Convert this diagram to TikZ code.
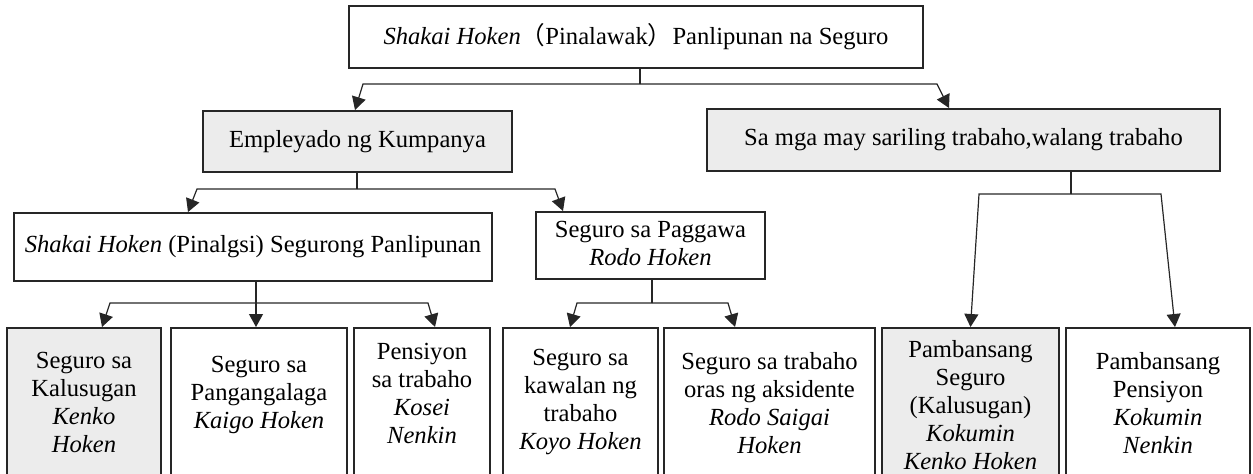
\documentclass[tikz,border=0pt]{standalone}
\usepackage{fontspec}
\setmainfont{Liberation Serif}
\newfontfamily\cjk{Noto Sans CJK JP}
\usetikzlibrary{arrows.meta}

\tikzset{
  box/.style={draw=black!85, line width=1pt, rectangle, inner sep=0pt, font=\fontsize{12.3}{14}\selectfont},
  shaded/.style={box, fill=gray!15},
  leaf/.style={anchor=north, text height=9.8pt, text depth=70pt},
  link/.style={draw=black!85, line width=0.6pt},
  arr/.style={link, -{Triangle[length=6.5pt,width=7pt]}},
}

\begin{document}
\begin{tikzpicture}[x=0.5pt, y=-0.5pt]
  \useasboundingbox (0,0) rectangle (1253,473);
  \clip (0,0) rectangle (1253,473);

  % upper levels
  \node[box, minimum width=287pt, minimum height=31pt] (top) at (636,37)
    {\textit{Shakai Hoken}{\cjk （}Pinalawak{\cjk ）}Panlipunan na Seguro};
  \node[shaded, minimum width=154.5pt, minimum height=30.5pt] (emp) at (357.5,141.5) {Empleyado ng Kumpanya};
  \node[shaded, minimum width=256.5pt, minimum height=31pt] (self) at (963.5,140) {Sa mga may sariling trabaho,walang trabaho};
  \node[box, minimum width=239pt, minimum height=34pt] (pin) at (253,247)
    {\textit{Shakai Hoken} (Pinalgsi) Segurong Panlipunan};
  \node[box, minimum width=114.5pt, minimum height=33.5pt] (rodo) at (650.5,245.5)
    {\begin{tabular}{@{}c@{}}Seguro sa Paggawa\\\textit{Rodo Hoken}\end{tabular}};

  % bottom row
  \node[shaded, leaf, minimum width=77pt, inner ysep=10.3pt] (b1) at (84,327)
    {\begin{tabular}[t]{@{}c@{}}Seguro sa\\Kalusugan\\\textit{Kenko}\\\textit{Hoken}\end{tabular}};
  \node[box, leaf, minimum width=88pt, inner ysep=12.3pt] (b2) at (259,327)
    {\begin{tabular}[t]{@{}c@{}}Seguro sa\\Pangangalaga\\\textit{Kaigo Hoken}\end{tabular}};
  \node[box, leaf, minimum width=68pt, inner ysep=5.8pt] (b3) at (422,327)
    {\begin{tabular}[t]{@{}c@{}}Pensiyon\\sa trabaho\\\textit{Kosei}\\\textit{Nenkin}\end{tabular}};
  \node[box, leaf, minimum width=77.5pt, inner ysep=8.8pt] (b4) at (580.5,327)
    {\begin{tabular}[t]{@{}c@{}}Seguro sa\\kawalan ng\\trabaho\\\textit{Koyo Hoken}\end{tabular}};
  \node[box, leaf, minimum width=105.5pt, inner ysep=10.8pt] (b5) at (769.5,327)
    {\begin{tabular}[t]{@{}c@{}}Seguro sa trabaho\\oras ng aksidente\\\textit{Rodo Saigai}\\\textit{Hoken}\end{tabular}};
  \node[shaded, leaf, minimum width=88.5pt, inner ysep=4.8pt] (b6) at (970.5,327)
    {\begin{tabular}[t]{@{}c@{}}Pambansang\\Seguro\\(Kalusugan)\\\textit{Kokumin}\\\textit{Kenko Hoken}\end{tabular}};
  \node[box, leaf, minimum width=92pt, inner ysep=10.8pt] (b7) at (1158,327)
    {\begin{tabular}[t]{@{}c@{}}Pambansang\\Pensiyon\\\textit{Kokumin}\\\textit{Nenkin}\end{tabular}};

  % junctions
  \coordinate (t0) at (640,84);
  \coordinate (t0l) at (363,84);
  \coordinate (t0r) at (937,84);
  \coordinate (e0) at (357,189);
  \coordinate (e0l) at (197,189);
  \coordinate (e0r) at (555,189);
  \coordinate (s0) at (1071,194);
  \coordinate (s0l) at (979,194);
  \coordinate (s0r) at (1161,194);
  \coordinate (p0) at (256,303);
  \coordinate (p0l) at (110,303);
  \coordinate (p0r) at (428,303);
  \coordinate (r0) at (652,303);
  \coordinate (r0l) at (577,303);
  \coordinate (r0r) at (728,303);

  % connectors
  \draw[link] (top.south -| t0) -- (t0);
  \draw[arr] (t0) -- (t0l) -- ([xshift=-1.25pt]emp.north);
  \draw[arr] (t0) -- (t0r) -- ([xshift=-7.25pt]self.north);

  \draw[link] (emp.south -| e0) -- (e0);
  \draw[arr] (e0) -- (e0l) -- ([xshift=-32.5pt]pin.north);
  \draw[arr] (e0) -- (e0r) -- ([xshift=-43.75pt]rodo.north);

  \draw[link] (self.south -| s0) -- (s0);
  \draw[arr] (s0) -- (s0l) -- (b6.north);
  \draw[arr] (s0) -- (s0r) -- ([xshift=8.5pt]b7.north);

  \draw[arr] (pin.south -| p0) -- (b2.north -| p0);
  \draw[arr] (p0) -- (p0l) -- ([xshift=9pt]b1.north);
  \draw[arr] (p0) -- (p0r) -- ([xshift=6.5pt]b3.north);

  \draw[link] (rodo.south -| r0) -- (r0);
  \draw[arr] (r0) -- (r0l) -- ([xshift=-5.25pt]b4.north);
  \draw[arr] (r0) -- (r0r) -- ([xshift=-17.25pt]b5.north);
\end{tikzpicture}
\end{document}
